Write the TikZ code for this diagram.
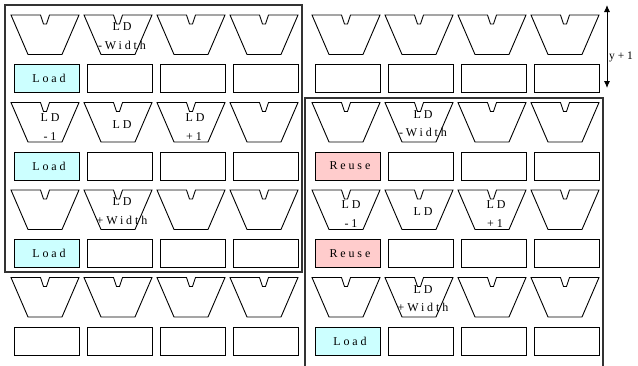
\documentclass[tikz,border=0pt]{standalone}
\usepackage{fontspec}
\setmainfont{Liberation Serif}
\newfontfamily\spaced[LetterSpace=24]{Liberation Serif}
\usetikzlibrary{arrows.meta}
\definecolor{loadfill}{HTML}{CCFFFF}
\definecolor{reusefill}{HTML}{FFCCCC}
\tikzset{
  unit/.style={draw=black, line width=0.9pt, line join=miter},
  cell/.style={draw=black, line width=0.9pt, minimum width=65pt, minimum height=28pt,
               inner sep=0pt, anchor=north west},
  lbl/.style={inner sep=0pt, font=\spaced\fontsize{12}{14}\selectfont},
  frame/.style={draw=black!80, line width=1.1pt},
  % highlighted register cells
  cellL00/.style={fill=loadfill}, cellL01/.style={fill=loadfill}, cellL02/.style={fill=loadfill},
  cellR01/.style={fill=reusefill}, cellR02/.style={fill=reusefill}, cellR03/.style={fill=loadfill}
}
\begin{document}
\begin{tikzpicture}[x=1pt,y=-1pt]
\useasboundingbox (0,0) rectangle (638,365);

% two 4x4 arrays of load units (trapezoids) over register cells
\foreach \g/\gx in {L/14, R/315}
 \foreach \c in {0,...,3}
  \foreach \r in {0,...,3} {
    \pgfmathsetmacro\bx{\gx+73*\c}
    \pgfmathsetmacro\tc{\bx+31}
    \pgfmathsetmacro\yt{15+87.5*\r}
    \coordinate (alu-\g\c\r) at (\tc,\yt);
    \draw[unit] (\tc-34,\yt) -- (\tc-4.5,\yt) -- (\tc-1.5,\yt+9) -- (\tc+1.5,\yt+9)
      -- (\tc+4.5,\yt) -- (\tc+34,\yt) -- (\tc+17,\yt+39.5) -- (\tc-17,\yt+39.5) -- cycle;
    \node[cell, cell\g\c\r/.try] (box-\g\c\r) at (\bx,\yt+49) {};
  }

% cell labels
\node[lbl] (tL00) at ([xshift=2pt]box-L00) {Load};
\node[lbl] (tL01) at ([xshift=2pt]box-L01) {Load};
\node[lbl] (tL02) at ([xshift=2pt]box-L02) {Load};
\node[lbl] (tR01) at ([xshift=2pt]box-R01) {Reuse};
\node[lbl] (tR02) at ([xshift=2pt]box-R02) {Reuse};
\node[lbl] (tR03) at ([xshift=2pt]box-R03) {Load};

% neighbour labels, left array
\node[lbl] (aL10) at ([shift={(4,12)}]alu-L10) {LD};
\node[lbl] (bL10) at ([shift={(4,30)}]alu-L10) {-Width};
\node[lbl] (aL01) at ([shift={(5,15)}]alu-L01) {LD};
\node[lbl] (bL01) at ([shift={(5,34)}]alu-L01) {-1};
\node[lbl] (aL11) at ([shift={(4,22)}]alu-L11) {LD};
\node[lbl] (aL21) at ([shift={(4,15)}]alu-L21) {LD};
\node[lbl] (bL21) at ([shift={(3,34)}]alu-L21) {+1};
\node[lbl] (aL12) at ([shift={(4,12)}]alu-L12) {LD};
\node[lbl] (bL12) at ([shift={(4,30)}]alu-L12) {+Width};

% neighbour labels, right array
\node[lbl] (aR11) at ([shift={(4,12)}]alu-R11) {LD};
\node[lbl] (bR11) at ([shift={(4,30)}]alu-R11) {-Width};
\node[lbl] (aR02) at ([shift={(5,15)}]alu-R02) {LD};
\node[lbl] (bR02) at ([shift={(5,34)}]alu-R02) {-1};
\node[lbl] (aR12) at ([shift={(4,22)}]alu-R12) {LD};
\node[lbl] (aR22) at ([shift={(4,15)}]alu-R22) {LD};
\node[lbl] (bR22) at ([shift={(3,34)}]alu-R22) {+1};
\node[lbl] (aR13) at ([shift={(4,12)}]alu-R13) {LD};
\node[lbl] (bR13) at ([shift={(4,30)}]alu-R13) {+Width};

% window frames
\draw[frame] (5,5) rectangle (302,272);
\draw[frame] (305,375) -- (305,98) -- (603,98) -- (603,375);

% row-step dimension
\coordinate (ytop) at (607,5);
\coordinate (ybot) at (607,88);
\draw[line width=0.9pt, {Latex[length=7pt,width=6pt]}-{Latex[length=7pt,width=6pt]}] (ytop) -- (ybot);
\node[inner sep=0pt, anchor=west, font=\fontsize{11.5}{13}\selectfont] (ystep) at (609,57) {y + 1};
\end{tikzpicture}
\end{document}
